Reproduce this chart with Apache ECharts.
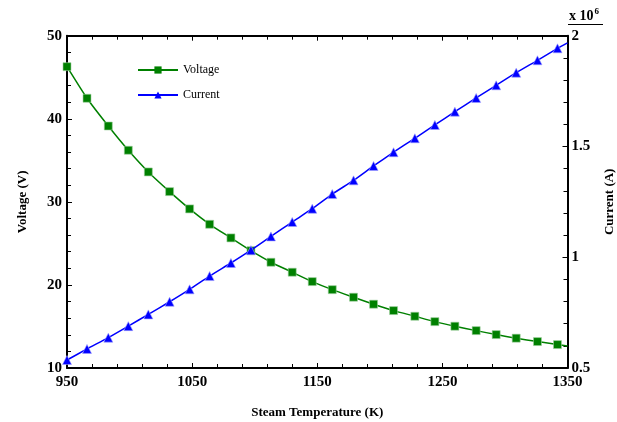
<!DOCTYPE html>
<html>
<head>
<meta charset="utf-8">
<script src="https://cdn.jsdelivr.net/npm/echarts@6/dist/echarts.min.js"></script>
<style>html,body{margin:0;padding:0;background:#fff}#c{width:617px;height:422px}</style>
</head>
<body>
<div id="c"></div>
<script>
const temps = [950, 966, 983, 999, 1015, 1032, 1048, 1064, 1081, 1097, 1113, 1130, 1146, 1162, 1179, 1195, 1211, 1228, 1244, 1260, 1277, 1293, 1309, 1326, 1342];
const voltage = [46.27, 42.47, 39.13, 36.21, 33.60, 31.23, 29.15, 27.30, 25.66, 24.12, 22.73, 21.53, 20.40, 19.43, 18.52, 17.68, 16.91, 16.23, 15.58, 15.03, 14.50, 14.02, 13.59, 13.18, 12.82];
const current = [0.536, 0.586, 0.637, 0.689, 0.742, 0.799, 0.855, 0.915, 0.974, 1.032, 1.094, 1.159, 1.219, 1.285, 1.347, 1.412, 1.474, 1.537, 1.597, 1.657, 1.719, 1.776, 1.833, 1.889, 1.943];
// where each drawn curve meets the right frame (no marker there)
const endTemp = 1350;
const endVoltage = 12.66;
const endCurrent = 1.968;

const serif = '"Liberation Serif", "DejaVu Serif", serif';

function build(ys, endY) {
  const d = temps.map((t, i) => [t, ys[i]]);
  d.push({ value: [endTemp, endY], symbol: 'none' });
  return d;
}

const chart = echarts.init(document.getElementById('c'), null, { renderer: 'canvas' });

const tickLabel = { color: '#000', fontFamily: serif, fontWeight: 'bold', fontSize: 15, formatter: v => String(v) };
const axLine = { show: true, lineStyle: { color: '#000', width: 2 } };
const tick = { show: true, inside: true, length: 5, lineStyle: { color: '#000', width: 1 } };
const minor = { show: true, splitNumber: 5, length: 4, lineStyle: { color: '#000', width: 1 } };
const nameStyle = { fontFamily: serif, fontWeight: 'bold', fontSize: 13, color: '#000' };

chart.setOption({
  animation: false,
  backgroundColor: '#fff',
  grid: { left: 67, right: 49.5, top: 35.7, bottom: 54, containLabel: false, outerBoundsMode: 'none' },
  legend: {
    orient: 'vertical',
    left: 132,
    top: 59,
    itemWidth: 40,
    itemHeight: 9,
    itemGap: 13,
    textStyle: { fontFamily: serif, fontSize: 12, color: '#000' },
    data: [
      { name: 'Voltage', itemStyle: { color: '#008000', borderWidth: 0 } },
      { name: 'Current', itemStyle: { color: '#0000ff', borderWidth: 0 } }
    ]
  },
  xAxis: [
    {
      type: 'value', position: 'bottom', min: 950, max: 1350, interval: 100,
      axisLine: axLine, axisTick: tick, minorTick: minor,
      axisLabel: Object.assign({ margin: 7 }, tickLabel),
      splitLine: { show: false },
      name: 'Steam Temperature (K)', nameLocation: 'middle', nameGap: 38,
      nameTextStyle: nameStyle
    },
    {
      type: 'value', position: 'top', min: 950, max: 1350, interval: 100,
      axisLine: axLine, axisTick: tick, minorTick: minor,
      axisLabel: { show: false },
      splitLine: { show: false }
    }
  ],
  yAxis: [
    {
      type: 'value', position: 'left', min: 10, max: 50, interval: 10,
      axisLine: axLine, axisTick: tick, minorTick: minor,
      axisLabel: Object.assign({ margin: 5 }, tickLabel),
      splitLine: { show: false },
      name: 'Voltage (V)', nameLocation: 'middle', nameGap: 38, nameRotate: 90,
      nameTextStyle: nameStyle
    },
    {
      type: 'value', position: 'right', min: 0.5, max: 2, interval: 0.5,
      axisLine: axLine, axisTick: tick, minorTick: minor,
      axisLabel: Object.assign({ margin: 4 }, tickLabel),
      splitLine: { show: false },
      name: 'Current (A)', nameLocation: 'middle', nameGap: 36, nameRotate: 90,
      nameTextStyle: nameStyle
    }
  ],
  series: [
    {
      name: 'Voltage', type: 'line', xAxisIndex: 0, yAxisIndex: 0,
      data: build(voltage, endVoltage),
      smooth: 0.2,
      symbol: 'rect', symbolSize: 8,
      lineStyle: { color: '#008000', width: 1.5 },
      itemStyle: { color: '#008000', borderColor: '#9fd09f', borderWidth: 0.6 },
      z: 3
    },
    {
      name: 'Current', type: 'line', xAxisIndex: 0, yAxisIndex: 1,
      data: build(current, endCurrent),
      smooth: 0.2,
      symbol: 'triangle', symbolSize: 9,
      lineStyle: { color: '#0000ff', width: 1.5 },
      itemStyle: { color: '#0000ff', borderColor: '#a0a0ff', borderWidth: 0.6 },
      z: 4
    }
  ],
  graphic: [
    {
      type: 'text', left: 569, top: 7,
      style: {
        text: '{b|x 10}{s|6}',
        rich: {
          b: { fontFamily: serif, fontWeight: 'bold', fontSize: 14, fill: '#000', verticalAlign: 'bottom', lineHeight: 16 },
          s: { fontFamily: serif, fontWeight: 'bold', fontSize: 9, fill: '#000', verticalAlign: 'top', lineHeight: 16, padding: [0, 0, 8, 1] }
        }
      }
    },
    {
      type: 'line', shape: { x1: 568, y1: 24.5, x2: 603, y2: 24.5 },
      style: { stroke: '#000', lineWidth: 1 }
    }
  ]
});
</script>
</body>
</html>
